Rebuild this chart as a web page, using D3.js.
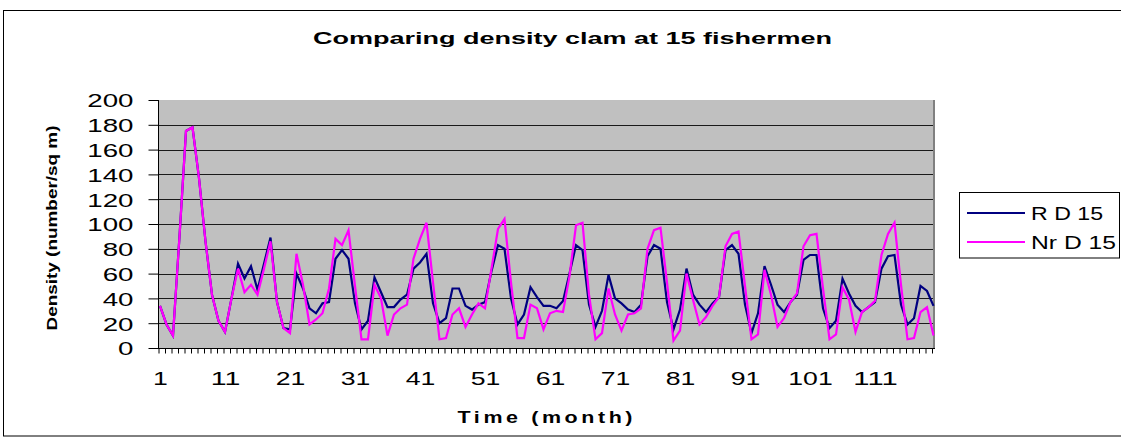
<!DOCTYPE html>
<html>
<head>
<meta charset="utf-8">
<script src="https://cdn.jsdelivr.net/npm/d3@7"></script>
<style>
  body { margin: 0; background: #fff; }
  svg { display: block; }
  text { font-family: Arial, "Liberation Sans", sans-serif; fill: #000; }
</style>
</head>
<body>
<svg id="chart" width="1121" height="447"></svg>
<script>
// Monthly clam density at 15 fishermen, months 1..120
const months = d3.range(1, 121);

const rD15 = [
  34, 19, 10, 90, 175, 178, 137, 86, 43, 22, 13, 40, 68, 56, 66, 47, 68, 89, 37, 16,
  15, 60, 48, 32, 28, 36, 37, 72, 79, 72, 36, 15, 22, 57, 45, 33, 33, 39, 43, 64,
  69, 76, 36, 20, 24, 48, 48, 34, 31, 35, 37, 62, 83, 80, 40, 19, 27, 49, 41, 34,
  34, 32, 38, 60, 83, 79, 35, 17, 30, 59, 40, 36, 31, 29, 35, 74, 83, 80, 37, 15,
  31, 64, 43, 35, 29, 36, 41, 79, 83, 76, 35, 12, 28, 66, 51, 35, 29, 37, 43, 71,
  75, 75, 32, 16, 22, 56, 44, 34, 29, 33, 37, 64, 74, 75, 35, 19, 24, 50, 46, 34
];

const nrD15 = [
  34, 19, 10, 90, 175, 178, 137, 86, 43, 22, 13, 40, 64, 45, 51, 43, 64, 86, 37, 16,
  12, 76, 51, 19, 23, 28, 48, 88, 83, 95, 50, 7, 7, 51, 40, 10, 27, 32, 35, 72,
  88, 101, 53, 7, 8, 27, 32, 17, 27, 36, 32, 64, 96, 104, 53, 8, 8, 35, 32, 15,
  28, 30, 29, 58, 99, 101, 43, 7, 12, 48, 27, 14, 27, 28, 32, 80, 95, 97, 53, 6,
  14, 60, 39, 19, 25, 34, 41, 82, 92, 94, 50, 7, 11, 63, 43, 17, 24, 37, 44, 82,
  91, 92, 48, 7, 11, 49, 39, 13, 29, 33, 38, 75, 92, 101, 51, 7, 8, 29, 33, 10
];

const seriesNames = ["R D 15", "Nr D 15"];
const seriesColors = ["#000080", "#ff00ff"];
const yTicks = [0, 20, 40, 60, 80, 100, 120, 140, 160, 180, 200];
const xLabels = [1, 11, 21, 31, 41, 51, 61, 71, 81, 91, 101, 111];

const svg = d3.select("#chart");
const W = 1121, H = 447;
const box = { left: 158, right: 935, top: 100, bottom: 348 };

const x = d3.scalePoint().domain(months).range([160, 933.5]);
const y = d3.scaleLinear().domain([0, 200]).range([box.bottom, box.top]);

// outer chart frame
svg.append("rect")
  .attr("x", 3.5).attr("y", 10.5)
  .attr("width", W + 10).attr("height", 425.5)
  .attr("fill", "#fff").attr("stroke", "#000").attr("stroke-width", 1);

// plot area
svg.append("rect")
  .attr("x", box.left).attr("y", box.top)
  .attr("width", box.right - box.left).attr("height", box.bottom - box.top)
  .attr("fill", "#c0c0c0");
svg.append("line")
  .attr("x1", box.right - 1).attr("x2", box.right - 1)
  .attr("y1", box.top).attr("y2", box.bottom)
  .attr("stroke", "#808080").attr("stroke-width", 2);

// horizontal gridlines
svg.append("g")
  .selectAll("line")
  .data(yTicks.filter(v => v > 0 && v < 200))
  .join("line")
  .attr("x1", box.left).attr("x2", box.right - 2)
  .attr("y1", d => Math.round(y(d)) + 0.5).attr("y2", d => Math.round(y(d)) + 0.5)
  .attr("stroke", "#1a1a1a").attr("stroke-width", 1);

// y axis
const yAxis = svg.append("g")
  .attr("transform", `translate(${box.left + 0.5},0)`)
  .call(d3.axisLeft(y).tickValues(yTicks).tickSize(10).tickPadding(15).tickFormat(d3.format("d")));
yAxis.select(".domain").attr("stroke", "#000").attr("d", `M0,${box.top}V${box.bottom}`);
yAxis.selectAll(".tick line").attr("stroke", "#000");
yAxis.selectAll(".tick text")
  .attr("font-size", 19)
  .attr("font-family", "Arial, 'Liberation Sans', sans-serif")
  .attr("fill", "#000")
  .attr("dy", "0.36em")
  .each(function (d) {
    const s = String(d);
    d3.select(this).attr("textLength", s.length * 15.4).attr("lengthAdjust", "spacingAndGlyphs");
  });

// x axis (one tick per month, labels every 10 months)
const xAxis = svg.append("g")
  .attr("transform", `translate(0,${box.bottom + 0.5})`)
  .call(d3.axisBottom(x).tickSize(5).tickPadding(0)
    .tickFormat(d => xLabels.includes(d) ? String(d) : ""));
xAxis.select(".domain").attr("stroke", "#000").attr("d", `M${box.left},0H${box.right}`);
xAxis.selectAll(".tick line").attr("stroke", "#000").attr("transform", "translate(-1.5,0)");
xAxis.selectAll(".tick text")
  .attr("font-size", 19)
  .attr("font-family", "Arial, 'Liberation Sans', sans-serif")
  .attr("fill", "#000")
  .attr("y", 36).attr("dy", 0)
  .each(function (d) {
    if (xLabels.includes(d)) {
      d3.select(this).attr("textLength", String(d).length * 14.8).attr("lengthAdjust", "spacingAndGlyphs");
    }
  });

// series lines
const line = d3.line()
  .x((d, i) => x(months[i]))
  .y(d => y(d));

[rD15, nrD15].forEach((vals, k) => {
  svg.append("path")
    .datum(vals)
    .attr("d", line)
    .attr("fill", "none")
    .attr("stroke", seriesColors[k])
    .attr("stroke-width", 2.2)
    .attr("stroke-linejoin", "miter");
});

// title
svg.append("text")
  .attr("x", 572.5).attr("y", 44)
  .attr("text-anchor", "middle")
  .attr("font-size", 16.5).attr("font-weight", "bold")
  .attr("textLength", 519).attr("lengthAdjust", "spacingAndGlyphs")
  .text("Comparing density clam at 15 fishermen");

// axis titles
svg.append("text")
  .attr("transform", "translate(57,228) rotate(-90)")
  .attr("text-anchor", "middle")
  .attr("font-size", 15).attr("font-weight", "bold")
  .attr("textLength", 205).attr("lengthAdjust", "spacingAndGlyphs")
  .text("Density (number/sq m)");

// x title: glyphs widened a little, remaining width taken up by letter spacing
const xTitleStretch = 1.3;
svg.append("text")
  .attr("transform", `translate(545,423) scale(${xTitleStretch},1)`)
  .attr("text-anchor", "middle")
  .attr("font-size", 16.5).attr("font-weight", "bold")
  .attr("textLength", 175 / xTitleStretch).attr("lengthAdjust", "spacing")
  .text("Time (month)");

// legend
const legend = svg.append("g");
legend.append("rect")
  .attr("x", 959.5).attr("y", 192.5)
  .attr("width", 160).attr("height", 65.5)
  .attr("fill", "#fff").attr("stroke", "#000").attr("stroke-width", 1);
const legendY = [213, 242];
const legendW = [72, 85];
seriesNames.forEach((name, k) => {
  legend.append("line")
    .attr("x1", 967).attr("x2", 1025)
    .attr("y1", legendY[k]).attr("y2", legendY[k])
    .attr("stroke", seriesColors[k]).attr("stroke-width", 2);
  legend.append("text")
    .attr("x", 1031).attr("y", legendY[k] + 6.5)
    .attr("font-size", 18.5)
    .attr("textLength", legendW[k]).attr("lengthAdjust", "spacingAndGlyphs")
    .text(name);
});
</script>
</body>
</html>
